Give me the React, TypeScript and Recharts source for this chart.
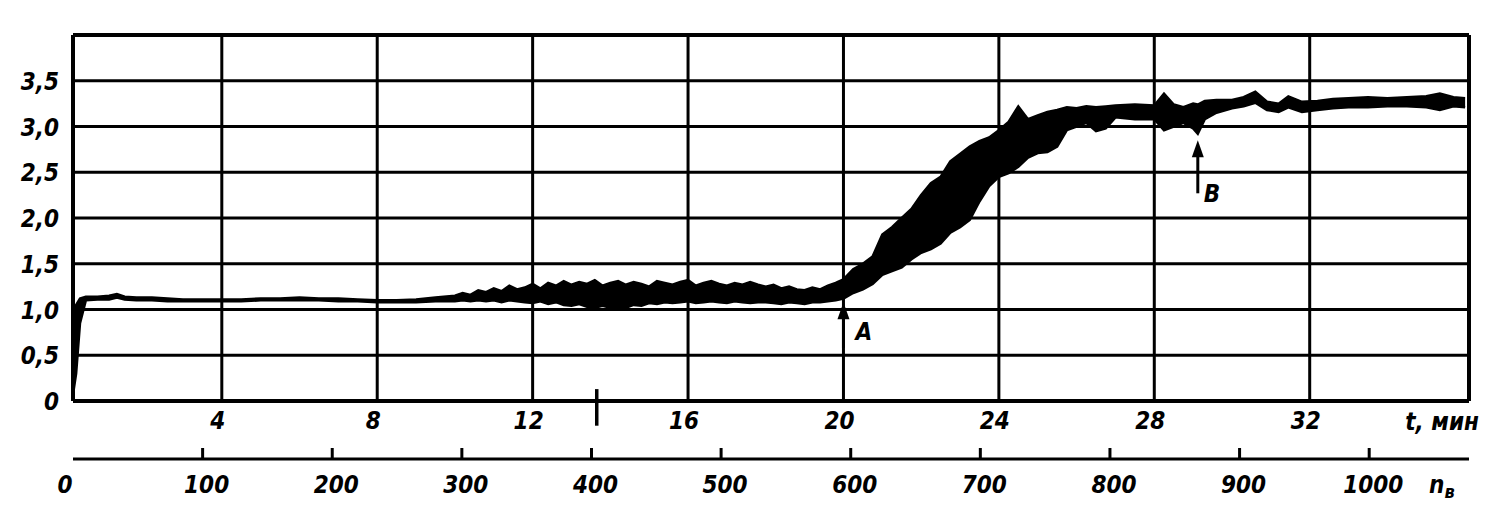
import { ComposedChart, Area, XAxis, YAxis, CartesianGrid, ReferenceLine } from 'recharts'

// time axis, min
const T_MIN = [
  0.18, 0.25, 0.35, 0.5, 0.8, 1.1, 1.3, 1.5, 1.8, 2.2, 2.6, 3.0, 3.5, 4, 4.5, 5, 5.5, 6, 6.5, 7, 7.5, 8, 8.5, 9, 9.5,
  10.0, 10.2, 10.4, 10.6, 10.8, 11.0, 11.2, 11.4, 11.6, 11.8, 12.0, 12.2, 12.4, 12.6, 12.8,
  13.0, 13.2, 13.4, 13.6, 13.8, 14.0, 14.2, 14.4, 14.6, 14.8, 15.0, 15.2, 15.4, 15.6, 15.8,
  16.0, 16.2, 16.4, 16.6, 16.8, 17.0, 17.2, 17.4, 17.6, 17.8, 18.0, 18.2, 18.4, 18.6, 18.8,
  19.0, 19.2, 19.4, 19.6, 19.8, 20.0, 20.25, 20.5, 20.75, 21.0, 21.25, 21.5, 21.75,
  22.0, 22.25, 22.5, 22.75, 23.0, 23.25, 23.5, 23.75, 24.0, 24.25, 24.5, 24.75, 25.0, 25.25, 25.5, 25.75,
  26.0, 26.25, 26.5, 26.75, 27.0, 27.5, 28.0, 28.25, 28.5, 28.75, 29.0, 29.12, 29.3, 29.6, 30.0, 30.3,
  30.6, 30.9, 31.2, 31.45, 31.8, 32.2, 32.6, 33.0, 33.5, 34.0, 34.5, 35.0, 35.35, 35.7, 36.0,
]

// lower edge of the recorded trace
const BAND_LO = [
  0.10, 0.30, 0.85, 1.10, 1.11, 1.11, 1.13, 1.11, 1.10, 1.10, 1.09, 1.09, 1.09, 1.09, 1.09, 1.10, 1.10, 1.10, 1.10, 1.09, 1.09, 1.08, 1.08, 1.08, 1.09,
  1.09, 1.10, 1.09, 1.10, 1.09, 1.10, 1.08, 1.10, 1.09, 1.08, 1.07, 1.09, 1.06, 1.08, 1.05,
  1.04, 1.06, 1.03, 1.02, 1.04, 1.02, 1.03, 1.02, 1.05, 1.04, 1.07, 1.06, 1.08, 1.07, 1.08,
  1.09, 1.07, 1.08, 1.09, 1.08, 1.07, 1.09, 1.08, 1.07, 1.08, 1.08, 1.07, 1.06, 1.08, 1.07,
  1.06, 1.08, 1.08, 1.09, 1.10, 1.12, 1.18, 1.22, 1.28, 1.38, 1.42, 1.46, 1.55,
  1.62, 1.66, 1.72, 1.84, 1.90, 1.98, 2.18, 2.35, 2.45, 2.49, 2.56, 2.66, 2.71, 2.72, 2.78, 2.96,
  3.00, 3.04, 2.95, 2.98, 3.10, 3.08, 3.08, 2.96, 3.00, 3.04, 2.98, 2.92, 3.08, 3.15, 3.20, 3.22,
  3.26, 3.18, 3.16, 3.21, 3.16, 3.18, 3.20, 3.21, 3.21, 3.22, 3.22, 3.21, 3.18, 3.22, 3.21,
]

// upper edge of the recorded trace
const BAND_HI = [
  0.95, 1.05, 1.12, 1.14, 1.14, 1.15, 1.17, 1.14, 1.13, 1.13, 1.12, 1.11, 1.11, 1.11, 1.11, 1.12, 1.12, 1.13, 1.12, 1.12, 1.11, 1.10, 1.10, 1.11, 1.13,
  1.15, 1.18, 1.16, 1.21, 1.19, 1.23, 1.20, 1.26, 1.22, 1.24, 1.28, 1.23, 1.29, 1.26, 1.31,
  1.27, 1.30, 1.28, 1.32, 1.26, 1.29, 1.31, 1.27, 1.30, 1.28, 1.25, 1.31, 1.29, 1.27, 1.30,
  1.32, 1.26, 1.29, 1.31, 1.28, 1.26, 1.29, 1.27, 1.30, 1.27, 1.25, 1.27, 1.23, 1.25, 1.22,
  1.21, 1.24, 1.22, 1.26, 1.29, 1.33, 1.44, 1.50, 1.58, 1.82, 1.90, 2.00, 2.10,
  2.25, 2.38, 2.45, 2.62, 2.70, 2.78, 2.84, 2.88, 2.96, 3.05, 3.22, 3.08, 3.12, 3.16, 3.18, 3.21,
  3.20, 3.22, 3.21, 3.22, 3.23, 3.24, 3.23, 3.36, 3.24, 3.21, 3.25, 3.24, 3.28, 3.29, 3.29, 3.32,
  3.38, 3.27, 3.25, 3.33, 3.27, 3.28, 3.30, 3.31, 3.32, 3.31, 3.32, 3.33, 3.36, 3.32, 3.31,
]

const T_TICKS = [4, 8, 12, 16, 20, 24, 28, 32]
const N_TICKS = [0, 100, 200, 300, 400, 500, 600, 700, 800, 900, 1000]
const Y_TICKS = [0, 0.5, 1, 1.5, 2, 2.5, 3, 3.5, 4]

const data = T_MIN.map((t, i) => ({ t, band: [BAND_LO[i], BAND_HI[i]] }))

const FONT = "'DejaVu Sans Condensed', 'DejaVu Sans', sans-serif"
const txt = { fontFamily: FONT, fontWeight: 700, fontStyle: 'italic', fontSize: 24, fill: '#000' } as const

function fmt(v: number) {
  return v.toFixed(v === 0 ? 0 : 1).replace('.', ',')
}

function YTick(p: any) {
  if (p.payload.value === 4) return null
  return (
    <text x={p.x} y={p.y} dy={9} textAnchor="end" style={txt} fontStretch="condensed">
      {fmt(p.payload.value)}
    </text>
  )
}

function TTick(p: any) {
  return (
    <text x={p.x - 4} y={p.y} dy={28} textAnchor="middle" style={txt} fontStretch="condensed">
      {p.payload.value}
    </text>
  )
}

// n-axis tick: short mark rising from the axis line, label below
// (tickMargin 9 puts p.y 9px under the axis line)
function NTick(p: any) {
  const v = Number(p.payload.value)
  const cx = Number(p.x)
  const top = Number(p.y) - 20
  return (
    <g>
      {v > 0 ? (
        <path d={`M${cx},${top} L${cx},${top + 11}`} stroke="#000" strokeWidth={3} fill="none" style={{ stroke: '#000' }} />
      ) : null}
      <text x={cx + (v === 0 ? -8 : 4)} y={top} dy={45} textAnchor="middle" style={txt} fontStretch="condensed">
        {v}
      </text>
    </g>
  )
}

function Arrow(p: any) {
  const x = p.x1
  const tip = Math.min(p.y1, p.y2)
  const end = Math.max(p.y1, p.y2)
  return (
    <g>
      <line x1={x} x2={x} y1={tip + 10} y2={end} stroke="#000" strokeWidth={3} />
      <polygon points={`${x},${tip} ${x - 6},${tip + 17} ${x + 6},${tip + 17}`} fill="#000" />
    </g>
  )
}

function letter(ch: string, dx: number, dy: number) {
  return (props: any) => {
    const vb = props.viewBox
    return (
      <text x={vb.x + dx} y={vb.y + dy} style={txt} fontSize={24}>
        {ch}
      </text>
    )
  }
}

export default function App() {
  return (
    <div style={{ position: 'absolute', left: 0, top: 0, background: '#fff' }}>
      <ComposedChart width={1497} height={520} data={data} margin={{ top: 35, right: 28, left: 0, bottom: 0 }}>
        <CartesianGrid xAxisId="a" yAxisId="v" stroke="#000" strokeWidth={3} />
        <XAxis
          xAxisId="a"
          dataKey="t"
          type="number"
          domain={[0.17, 36.1]}
          ticks={T_TICKS}
          interval={0}
          allowDataOverflow
          height={58}
          axisLine={false}
          tickLine={false}
          tickSize={0}
          tickMargin={0}
          tick={TTick}
          label={{
            content: (props: any) => (
              <text x={props.viewBox.x + props.viewBox.width + 10} y={props.viewBox.y + 29} textAnchor="end" style={txt}>
                t, мин
              </text>
            ),
          }}
        />
        <XAxis
          xAxisId="b"
          dataKey="n"
          type="number"
          domain={[0, 1077]}
          ticks={N_TICKS}
          interval={0}
          allowDataOverflow
          height={61}
          axisLine={{ stroke: '#000', strokeWidth: 3 }}
          tickLine={false}
          tickSize={0}
          tickMargin={9}
          tick={NTick}
          label={{
            content: (props: any) => (
              <text x={props.viewBox.x + props.viewBox.width - 40} y={props.viewBox.y + 34} style={txt}>
                n<tspan fontSize={18} dy={5}>в</tspan>
              </text>
            ),
          }}
        />
        <YAxis
          yAxisId="v"
          type="number"
          domain={[0, 4]}
          ticks={Y_TICKS}
          interval={0}
          width={73}
          axisLine={false}
          tickLine={false}
          tickSize={0}
          tickMargin={14}
          tick={YTick}
        />
        <ReferenceLine xAxisId="a" yAxisId="v" x={0.17} stroke="#000" strokeWidth={4} />
        <ReferenceLine xAxisId="a" yAxisId="v" x={36.1} stroke="#000" strokeWidth={4} />
        <ReferenceLine xAxisId="a" yAxisId="v" y={0} stroke="#000" strokeWidth={4} />
        <ReferenceLine xAxisId="a" yAxisId="v" y={4} stroke="#000" strokeWidth={4} />
        <ReferenceLine
          xAxisId="a"
          yAxisId="v"
          segment={[{ x: 13.65, y: 0.13 }, { x: 13.65, y: -0.27 }]}
          ifOverflow="visible"
          stroke="#000"
          strokeWidth={3.5}
        />
        <Area
          xAxisId="a"
          yAxisId="v"
          dataKey="band"
          type="linear"
          stroke="#000"
          strokeWidth={2.5}
          fill="#000"
          fillOpacity={1}
          dot={false}
          activeDot={false}
          isAnimationActive={false}
        />
        <ReferenceLine
          xAxisId="a"
          yAxisId="v"
          segment={[{ x: 20, y: 1.08 }, { x: 20, y: 0.58 }]}
          shape={Arrow}
          label={{ content: letter('A', 12, 38) }}
        />
        <ReferenceLine
          xAxisId="a"
          yAxisId="v"
          segment={[{ x: 29.12, y: 2.85 }, { x: 29.12, y: 2.27 }]}
          shape={Arrow}
          label={{ content: letter('B', 6, 62) }}
        />
      </ComposedChart>
    </div>
  )
}
